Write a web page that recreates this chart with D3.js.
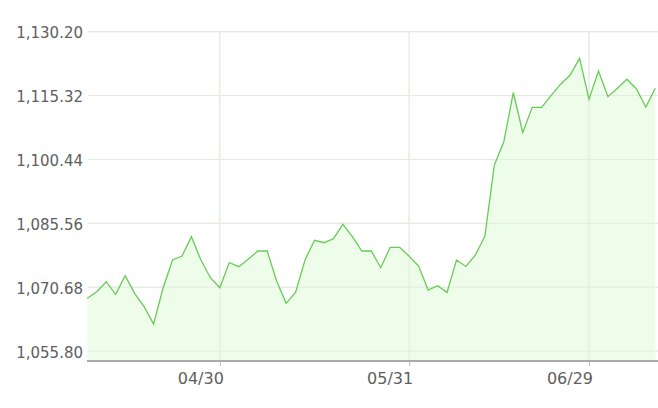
<!DOCTYPE html>
<html>
<head>
<meta charset="utf-8">
<script src="https://cdn.jsdelivr.net/npm/d3@7"></script>
<style>
  html, body { margin: 0; padding: 0; background: #fff; }
  svg { display: block; }
  text { font-family: "DejaVu Sans", Verdana, sans-serif; fill: #5e5e5e; }
</style>
</head>
<body>
<svg id="chart" width="658" height="408"></svg>
<script>
const dates = [
  "04/10","04/11","04/12","04/13","04/16","04/17","04/18","04/19","04/20","04/23",
  "04/24","04/25","04/26","04/27","04/30",
  "05/04","05/07","05/08","05/09","05/10","05/11","05/14","05/15","05/16","05/17",
  "05/18","05/21","05/22","05/23","05/24","05/25","05/28","05/29","05/30","05/31",
  "06/01","06/04","06/05","06/06","06/07","06/08","06/11","06/12","06/13","06/14",
  "06/15","06/20","06/21","06/22","06/25","06/26","06/27","06/28","06/29",
  "07/02","07/03","07/04","07/05","07/06","07/09","07/10"
];
const values = [
  1068.09,1069.63,1071.95,1069.02,1073.35,1069.25,1066.13,1062.10,1070.42,1077.01,
  1077.94,1082.44,1077.01,1072.89,1070.56,
  1076.43,1075.45,1077.17,1079.11,1079.11,1072.12,1066.92,1069.48,1077.01,1081.60,
  1081.04,1081.97,1085.33,1082.44,1079.11,1079.11,1075.22,1079.97,1079.97,1077.87,
  1075.61,1070.02,1071.02,1069.48,1077.01,1075.50,1078.18,1082.60,1099.14,1104.57,
  1116.03,1106.72,1112.59,1112.59,1115.38,1117.97,1120.11,1124.00,1114.47,
  1121.04,1115.06,1117.04,1119.13,1116.92,1112.66,1117.01
];
const yTicks = [1055.80, 1070.68, 1085.56, 1100.44, 1115.32, 1130.20];
const xTickLabels = ["04/30", "05/31", "06/29"];
const yDomain = [1053.6, 1130.2];

const data = dates.map((d, i) => ({ date: d, value: values[i] }));

const svg = d3.select("#chart");
const W = 658;
const plotLeft = 87.3, plotRight = 655.3, plotTop = 31.7, plotBottom = 360.5;

const x = d3.scalePoint().domain(dates).range([plotLeft, plotRight]);
const y = d3.scaleLinear().domain(yDomain).range([plotBottom, plotTop]);

// horizontal grid
svg.append("g").selectAll("line").data(yTicks).join("line")
  .attr("x1", 88).attr("x2", W)
  .attr("y1", d => y(d)).attr("y2", d => y(d))
  .attr("stroke", "#e9e9e9").attr("stroke-width", 1);

// vertical grid
svg.append("g").selectAll("line").data(xTickLabels).join("line")
  .attr("x1", d => x(d)).attr("x2", d => x(d))
  .attr("y1", plotTop).attr("y2", plotBottom)
  .attr("stroke", "#e9e9e9").attr("stroke-width", 1);

// area
const area = d3.area()
  .x(d => x(d.date))
  .y0(plotBottom)
  .y1(d => y(d.value));
svg.append("path").datum(data)
  .attr("d", area)
  .attr("fill", "#eefdea");

// grid visible through fill
svg.append("g").selectAll("line").data(yTicks).join("line")
  .attr("x1", 88).attr("x2", W)
  .attr("y1", d => y(d)).attr("y2", d => y(d))
  .attr("stroke", "#e2ebe0").attr("stroke-width", 1);
svg.append("g").selectAll("line").data(xTickLabels).join("line")
  .attr("x1", d => x(d)).attr("x2", d => x(d))
  .attr("y1", plotTop).attr("y2", plotBottom)
  .attr("stroke", "#e2ebe0").attr("stroke-width", 1);

// line
const line = d3.line()
  .x(d => x(d.date))
  .y(d => y(d.value));
svg.append("path").datum(data)
  .attr("d", line)
  .attr("fill", "none")
  .attr("stroke", "#66cc55")
  .attr("stroke-width", 1.3)
  .attr("stroke-linejoin", "miter");

// x axis
const xAxis = d3.axisBottom(x).tickValues(xTickLabels).tickSize(5).tickSizeOuter(0).tickPadding(0);
const gx = svg.append("g").attr("transform", `translate(0,${plotBottom + 0.5})`).call(xAxis);
gx.select(".domain").remove();
gx.selectAll(".tick line").attr("stroke", "#bbb");
gx.selectAll(".tick text")
  .attr("text-anchor", "end")
  .attr("x", 3.5)
  .attr("y", 23)
  .attr("dy", null)
  .style("font-size", "16px")
  .style("font-family", "'DejaVu Sans', Verdana, sans-serif")
  .attr("fill", "#5e5e5e");
svg.append("line")
  .attr("x1", 87).attr("x2", W)
  .attr("y1", plotBottom + 0.5).attr("y2", plotBottom + 0.5)
  .attr("stroke", "#aaa").attr("stroke-width", 1.8);

// y axis labels
const yAxis = d3.axisLeft(y).tickValues(yTicks).tickSize(0).tickPadding(0)
  .tickFormat(d3.format(",.2f"));
const gy = svg.append("g").attr("transform", "translate(83,0)").call(yAxis);
gy.select(".domain").remove();
gy.selectAll(".tick text")
  .attr("x", 0)
  .attr("dy", "0.4em")
  .style("font-size", "15px")
  .style("font-family", "'DejaVu Sans', Verdana, sans-serif")
  .attr("fill", "#5e5e5e");
</script>
</body>
</html>
